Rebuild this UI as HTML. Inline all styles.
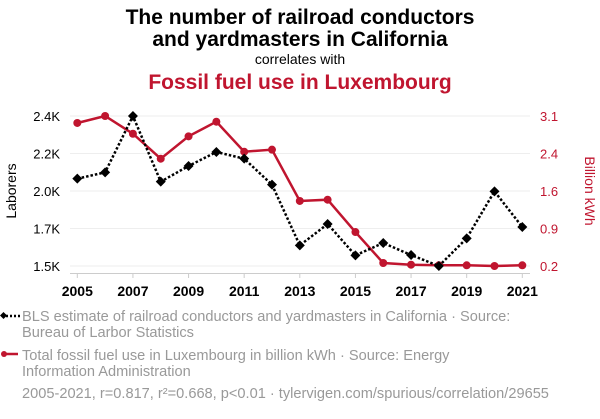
<!DOCTYPE html>
<html><head><meta charset="utf-8"><style>
body{margin:0;background:#fff;width:600px;height:414px;overflow:hidden;font-family:"Liberation Sans",sans-serif}
svg text{font-family:"Liberation Sans",sans-serif}
</style></head><body>
<svg id="c" width="600" height="414" xmlns="http://www.w3.org/2000/svg">
<text x="300" y="24" text-anchor="middle" font-size="21" font-weight="bold" fill="#000">The number of railroad conductors</text>
<text x="300" y="46" text-anchor="middle" font-size="21" font-weight="bold" fill="#000">and yardmasters in California</text>
<text x="300" y="64" text-anchor="middle" font-size="14" fill="#000">correlates with</text>
<text x="300" y="89" text-anchor="middle" font-size="21" font-weight="bold" fill="#c0152f">Fossil fuel use in Luxembourg</text>
<g id="grid"></g><g id="axes"></g><g id="marks"></g>
<text transform="translate(16,191) rotate(-90)" text-anchor="middle" font-size="14" fill="#000">Laborers</text>
<text transform="translate(585,191) rotate(90)" text-anchor="middle" font-size="14" fill="#c0152f">Billion kWh</text>
<g>
<line x1="2" y1="316" x2="20" y2="316" stroke="#000" stroke-width="2.5" stroke-dasharray="2,2"/>
<rect x="1" y="313" width="5" height="5" transform="rotate(45 3.5 315.5)" fill="#000"/>
<text x="22" y="321" font-size="14.6" fill="#999">BLS estimate of railroad conductors and yardmasters in California · Source:</text>
<text x="22" y="337" font-size="14.6" fill="#999">Bureau of Larbor Statistics</text></g>
<g>
<line x1="2" y1="354" x2="18" y2="354" stroke="#c0152f" stroke-width="2.5"/>
<circle cx="4" cy="354" r="3" fill="#c0152f"/>
<text x="22" y="360" font-size="14.6" fill="#999">Total fossil fuel use in Luxembourg in billion kWh · Source: Energy</text>
<text x="22" y="376" font-size="14.6" fill="#999">Information Administration</text></g>
<text x="22" y="398" font-size="14.6" fill="#999">2005-2021, r=0.817, r²=0.668, p&lt;0.01 · tylervigen.com/spurious/correlation/29655</text>
</svg>
<script>
const years=[2005,2006,2007,2008,2009,2010,2011,2012,2013,2014,2015,2016,2017,2018,2019,2020,2021];
const laborers=[2024,2062,2400,2006,2100,2184,2144,1988,1624,1752,1564,1638,1566,1500,1666,1948,1734];
const fossil=[2.965,3.1,2.757,2.274,2.707,2.99,2.41,2.449,1.457,1.482,0.857,0.258,0.225,0.214,0.214,0.2,0.214];
const leftTicks=[1500,1725,1950,2175,2400];
const leftTickLabels=["1.5K","1.7K","2.0K","2.2K","2.4K"];
const rightTicks=[0.2,0.925,1.65,2.375,3.1];
const rightTickLabels=["0.2","0.9","1.6","2.4","3.1"];
const xTickYears=[2005,2007,2009,2011,2013,2015,2017,2019,2021];
const NS="http://www.w3.org/2000/svg";
const X=y=>77.3+(y-2005)*(522.3-77.3)/16;
const YL=v=>266-(v-1500)/900*150;
const YR=v=>266-(v-0.2)/2.9*150;
function mk(tag,at,parent){const e=document.createElementNS(NS,tag);for(const k in at)e.setAttribute(k,at[k]);document.getElementById(parent).appendChild(e);return e;}
leftTicks.forEach((t,i)=>{
 const g=mk('line',{x1:70,x2:530,y1:YL(t),y2:YL(t),stroke:'#eee','stroke-width':1},'grid');
 
 
 const tx=mk('text',{x:60,y:YL(t)+5,'text-anchor':'end','font-size':13,fill:'#000'},'axes');tx.textContent=leftTickLabels[i];
 
 
});
rightTicks.forEach((t,i)=>{
 const tx=mk('text',{x:540,y:YR(t)+5,'font-size':13,fill:'#c0152f'},'axes');tx.textContent=rightTickLabels[i];
 
 
});
const ax=mk('line',{x1:70,x2:530,y1:273.5,y2:273.5,stroke:'#ccc','stroke-width':1},'axes');


xTickYears.forEach(y=>{
 mk('line',{x1:X(y),x2:X(y),y1:273,y2:278,stroke:'#ccc'},'axes');
 const tx=mk('text',{x:X(y),y:296,'text-anchor':'middle','font-size':14,'font-weight':'bold',fill:'#000'},'axes');tx.textContent=y;
 
 
});
const rl=mk('polyline',{points:years.map((y,i)=>X(y)+','+YR(fossil[i])).join(' '),fill:'none',stroke:'#c0152f','stroke-width':2.5},'marks');


years.forEach((y,i)=>{const c=mk('circle',{cx:X(y),cy:YR(fossil[i]),r:4,fill:'#c0152f'},'marks');
 
 });
const bl=mk('polyline',{points:years.map((y,i)=>X(y)+','+YL(laborers[i])).join(' '),fill:'none',stroke:'#000','stroke-width':2.5,'stroke-dasharray':'2.5,2'},'marks');


years.forEach((y,i)=>{const cx=X(y),cy=YL(laborers[i]);
 const d=mk('polygon',{points:`${cx},${cy-5} ${cx+5},${cy} ${cx},${cy+5} ${cx-5},${cy}`,fill:'#000'},'marks');
 
 });
</script>
</body></html>
